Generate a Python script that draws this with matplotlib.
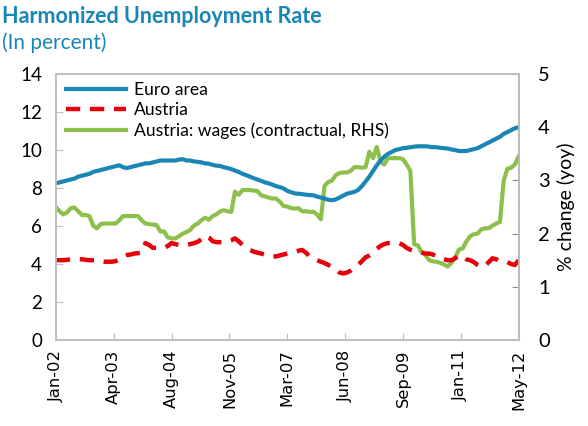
import matplotlib
matplotlib.use("Agg")
import matplotlib.pyplot as plt
import numpy as np

# monthly data, Jan-02 .. May-12
euro_area = [
    8.25, 8.3, 8.35, 8.4, 8.45, 8.5, 8.6, 8.65, 8.7, 8.75, 8.85, 8.9,
    8.95, 9.0, 9.05, 9.1, 9.15, 9.2, 9.1, 9.05, 9.1, 9.15, 9.2, 9.25,
    9.3, 9.3, 9.35, 9.4, 9.45, 9.45, 9.45, 9.45, 9.45, 9.5, 9.52, 9.45,
    9.45, 9.4, 9.38, 9.35, 9.3, 9.28, 9.22, 9.18, 9.16, 9.1, 9.05, 9.0,
    8.92, 8.85, 8.75, 8.68, 8.6, 8.52, 8.45, 8.38, 8.3, 8.25, 8.18, 8.1,
    8.05, 7.98, 7.85, 7.78, 7.72, 7.7, 7.68, 7.65, 7.63, 7.62, 7.55, 7.5,
    7.45, 7.38, 7.36, 7.4, 7.5, 7.6, 7.7, 7.75, 7.8, 7.9, 8.1, 8.35,
    8.6, 8.9, 9.2, 9.45, 9.65, 9.8, 9.9, 10.0, 10.05, 10.1, 10.12, 10.15,
    10.18, 10.2, 10.2, 10.2, 10.18, 10.15, 10.15, 10.12, 10.1, 10.08, 10.03, 10.0,
    9.95, 9.95, 9.95, 10.0, 10.05, 10.1, 10.2, 10.3, 10.4, 10.5, 10.6, 10.7,
    10.85, 10.95, 11.05, 11.15, 11.2,
]
austria = [
    4.2, 4.2, 4.2, 4.22, 4.25, 4.25, 4.25, 4.25, 4.22, 4.2, 4.2, 4.2,
    4.15, 4.12, 4.12, 4.12, 4.15, 4.25, 4.4, 4.47, 4.5, 4.55, 4.57, 4.6,
    5.1, 5.0, 4.85, 4.85, 4.85, 4.85, 4.95, 5.1, 5.05, 5.0, 5.0, 5.0,
    5.05, 5.1, 5.17, 5.3, 5.5, 5.4, 5.2, 5.15, 5.15, 5.15, 5.2, 5.25,
    5.35, 5.2, 5.0, 4.85, 4.75, 4.65, 4.6, 4.55, 4.5, 4.45, 4.4, 4.4,
    4.45, 4.5, 4.55, 4.6, 4.65, 4.7, 4.74, 4.6, 4.4, 4.3, 4.2, 4.12,
    4.05, 3.95, 3.85, 3.7, 3.55, 3.5, 3.55, 3.65, 3.8, 3.95, 4.15, 4.35,
    4.45, 4.6, 4.8, 4.95, 5.05, 5.1, 5.1, 5.1, 5.1, 5.0, 4.85, 4.75,
    4.7, 4.65, 4.6, 4.55, 4.55, 4.5, 4.4, 4.3, 4.25, 4.2, 4.2, 4.3,
    4.45, 4.4, 4.25, 4.2, 4.1, 3.95, 3.85, 3.9, 4.1, 4.3, 4.25, 4.15,
    4.12, 4.1, 4.0, 3.95, 4.2,
]
wages = [
    2.5, 2.42, 2.36, 2.4, 2.48, 2.49, 2.42, 2.35, 2.35, 2.33, 2.15, 2.1,
    2.18, 2.19, 2.19, 2.19, 2.19, 2.25, 2.33, 2.33, 2.33, 2.33, 2.33, 2.25,
    2.19, 2.18, 2.17, 2.16, 2.04, 2.04, 1.93, 1.91, 1.91, 1.95, 2.0, 2.03,
    2.07, 2.15, 2.19, 2.25, 2.3, 2.26, 2.33, 2.36, 2.42, 2.44, 2.42, 2.41,
    2.79, 2.73, 2.82, 2.82, 2.82, 2.81, 2.8, 2.72, 2.7, 2.68, 2.66, 2.66,
    2.6, 2.52, 2.51, 2.48, 2.47, 2.48, 2.42, 2.42, 2.41, 2.41, 2.36, 2.27,
    2.9, 2.97, 3.0, 3.1, 3.14, 3.15, 3.15, 3.18, 3.25, 3.25, 3.24, 3.25,
    3.54, 3.42, 3.63, 3.35, 3.3, 3.42, 3.42, 3.42, 3.42, 3.4, 3.3, 3.18,
    1.8, 1.78, 1.65, 1.6, 1.5, 1.48, 1.47, 1.45, 1.42, 1.38, 1.45, 1.55,
    1.7, 1.72, 1.85, 1.95, 1.99, 2.0, 2.08, 2.1, 2.1, 2.15, 2.19, 2.22,
    3.0, 3.22, 3.24, 3.3, 3.45,
]
tick_labels = ["Jan-02", "Apr-03", "Aug-04", "Nov-05", "Mar-07",
               "Jun-08", "Sep-09", "Jan-11", "May-12"]

font = "Lato"
x = np.arange(len(euro_area))

fig = plt.figure(figsize=(5.88, 4.26), dpi=100)
ax = fig.add_axes([0.095, 0.202, 0.787, 0.624])
ax2 = ax.twinx()

l1, = ax.plot(x, euro_area, color="#1a86b5", lw=3.0, label="Euro area")
l2, = ax.plot(x, austria, color="#e8000b", lw=3.2, dashes=(3.2, 2.2),
              label="Austria")
l3, = ax2.plot(x, wages, color="#8cc04b", lw=3.0,
               label="Austria: wages (contractual, RHS)")
ax.set_zorder(ax2.get_zorder() + 1)
ax.patch.set_visible(False)

ax.set_xlim(0, len(x) - 1)
ax.set_ylim(0, 14)
ax.set_yticks(range(0, 15, 2))
ax2.set_ylim(0, 5)
ax2.set_yticks(range(0, 6))
ax.set_xticks(np.linspace(0, len(x) - 1, len(tick_labels)))
ax.set_xticklabels(tick_labels, rotation=90, fontsize=11.8, family="DejaVu Sans")

for a in (ax, ax2):
    for s in a.spines.values():
        s.set_color("#bfbfbf")
        s.set_linewidth(1.3)
ax2.spines["right"].set_color("#8c8c8c")

ax.tick_params(axis="y", direction="in", length=5, color="#bfbfbf",
               labelsize=13.5, pad=10)
ax.tick_params(axis="x", direction="in", length=5, color="#bfbfbf", pad=7)
ax2.tick_params(axis="y", direction="in", length=5, color="#8c8c8c",
                labelsize=14.5, pad=14)
for lab in ax.get_yticklabels() + ax2.get_yticklabels():
    lab.set_family(font)

ax2.set_ylabel("% change (yoy)", fontsize=14, family=font, labelpad=5)

ax.legend(handles=[l1, l2, l3], loc="upper left", frameon=False,
          prop={"family": font, "size": 12.6}, handlelength=3.4,
          handletextpad=0.45, labelspacing=0.25, borderaxespad=0.2,
          bbox_to_anchor=(0.0, 1.01))

fig.text(0.003, 0.945, "Harmonized Unemployment Rate", color="#1a86b5",
         fontsize=15.5, fontweight="bold", family=font)
fig.text(0.003, 0.885, "(In percent)", color="#1a86b5", fontsize=15, family=font)

fig.savefig("out.png", dpi=100)
